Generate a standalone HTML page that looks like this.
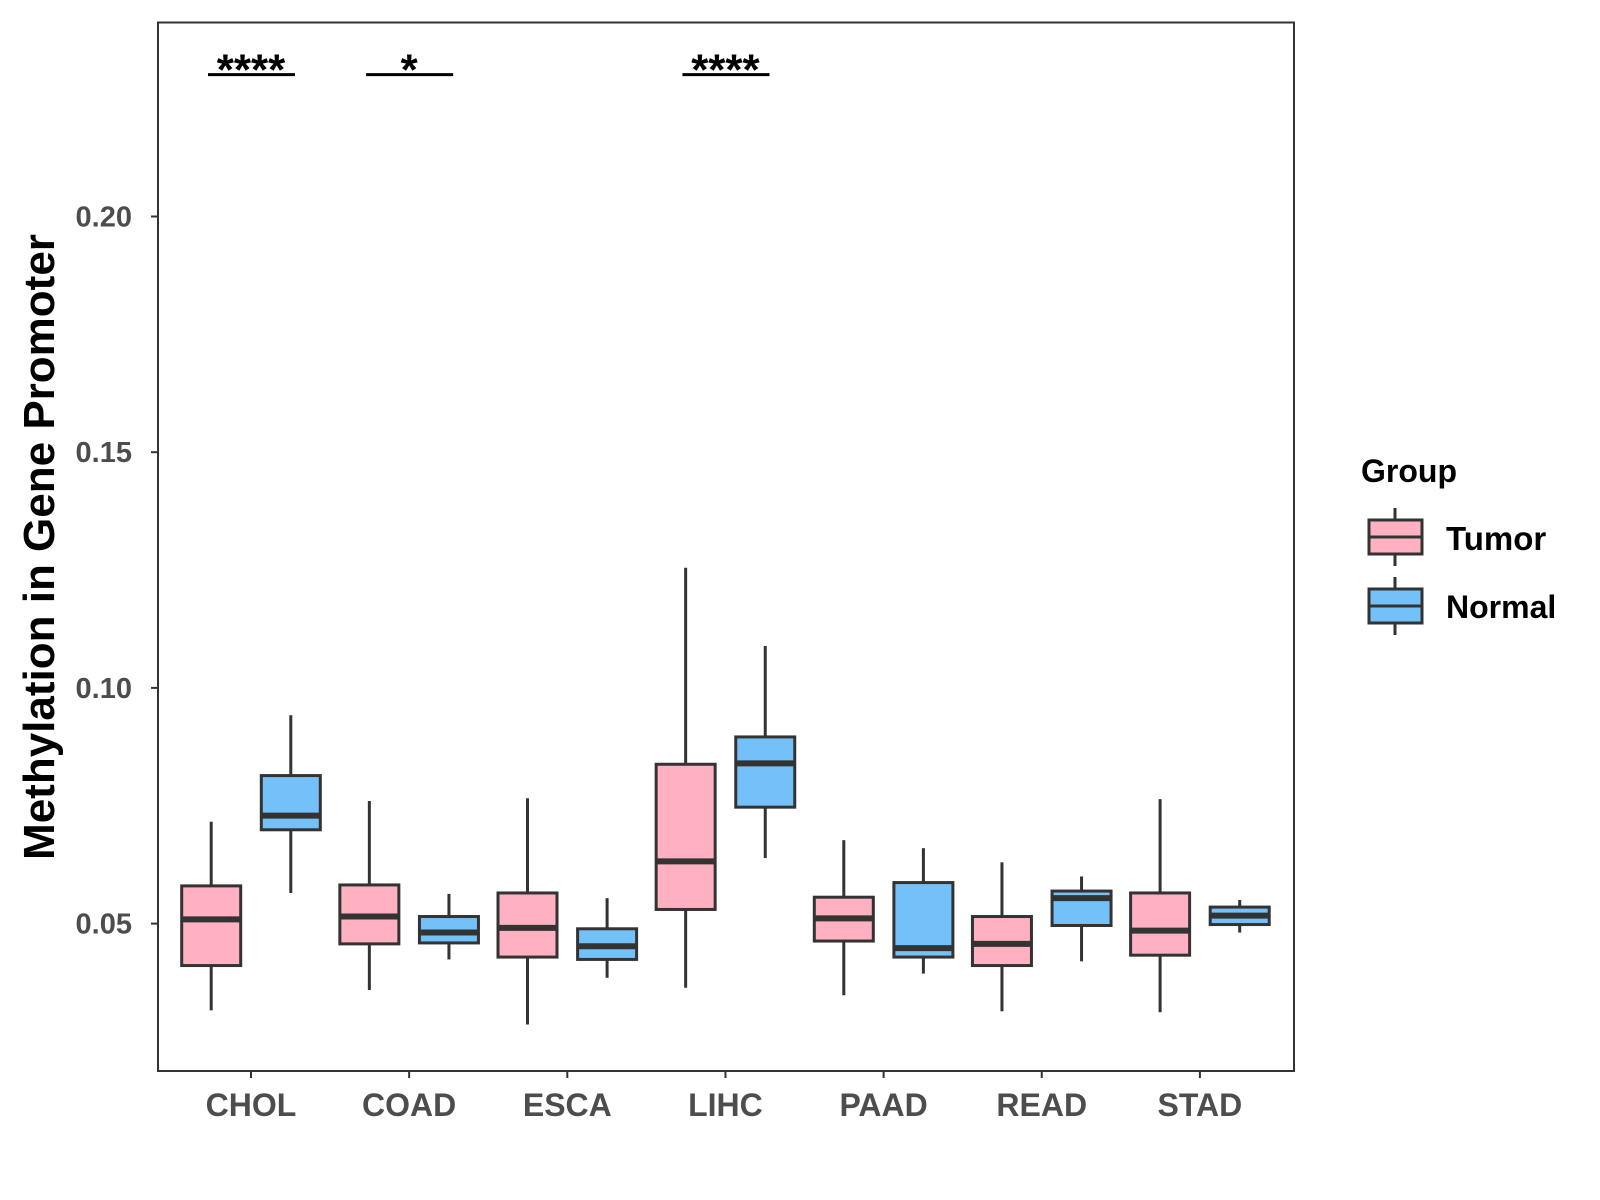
<!DOCTYPE html>
<html><head><meta charset="utf-8"><style>
html,body{margin:0;padding:0;background:#fff}
svg{display:block;font-family:"Liberation Sans",Arial,sans-serif}
</style></head><body>
<svg id="chart" width="1600" height="1200" viewBox="0 0 1600 1200">
<rect x="158" y="22.5" width="1136" height="1048.5" fill="#fff" stroke="#333" stroke-width="2"/>
<g id="g"></g>
<text transform="translate(54,547) rotate(-90)" text-anchor="middle" font-size="44" font-weight="bold" fill="#000">Methylation in Gene Promoter</text>
<g>
<text x="1361" y="482" font-size="32" font-weight="bold" fill="#000">Group</text>
<g>
<line x1="1395" y1="508" x2="1395" y2="566" stroke="#333" stroke-width="3"/>
<rect x="1369" y="520" width="53" height="34" fill="#FFB0C1" stroke="#333" stroke-width="3"/>
<line x1="1369" y1="537" x2="1422" y2="537" stroke="#333" stroke-width="3"/>
<text x="1446" y="550" font-size="33" font-weight="bold" fill="#000">Tumor</text>
</g>
<g>
<line x1="1395" y1="577" x2="1395" y2="635" stroke="#333" stroke-width="3"/>
<rect x="1369" y="589" width="53" height="34" fill="#74C1FA" stroke="#333" stroke-width="3"/>
<line x1="1369" y1="606" x2="1422" y2="606" stroke="#333" stroke-width="3"/>
<text x="1446" y="618" font-size="32" font-weight="bold" fill="#000">Normal</text>
</g>
</g>
</svg>
<script>
const categories = ["CHOL","COAD","ESCA","LIHC","PAAD","READ","STAD"];
// [low whisker, q1, median, q3, high whisker]
const tumorStats = [
 [0.0316,0.0411,0.0509,0.058,0.0716],
 [0.0359,0.0457,0.0515,0.0582,0.076],
 [0.0286,0.0429,0.0491,0.0565,0.0766],
 [0.0364,0.053,0.0632,0.0838,0.1255],
 [0.0348,0.0463,0.0511,0.0556,0.0677],
 [0.0314,0.0411,0.0457,0.0515,0.063],
 [0.0312,0.0433,0.0485,0.0565,0.0764]
];
const normalStats = [
 [0.0565,0.0699,0.0729,0.0814,0.0942],
 [0.0424,0.0459,0.0481,0.0515,0.0563],
 [0.0385,0.0424,0.0452,0.0489,0.0554],
 [0.0639,0.0747,0.084,0.0896,0.1089],
 [0.0394,0.0429,0.0448,0.0587,0.066],
 [0.042,0.0496,0.0554,0.0569,0.06],
 [0.0481,0.0498,0.0517,0.0535,0.055]
];
const sigLabels = ["****","*","","****","","",""];
const sigLevel = 0.2301;
const yTicks = [0.05,0.10,0.15,0.20];
const yTickLabels = ["0.05","0.10","0.15","0.20"];

const NS="http://www.w3.org/2000/svg";
const g=document.getElementById('g');
function y(v){return 923.6-(v-0.05)*4714;}
function x(i){return 251+i*158.15;}
function mk(tag,attrs,parent){const e=document.createElementNS(NS,tag);for(const k in attrs)e.setAttribute(k,attrs[k]);(parent||g).appendChild(e);return e;}

yTicks.forEach((t,i)=>{
 const tk=mk('line',{x1:151,x2:158,y1:y(t),y2:y(t),stroke:'#333','stroke-width':2});
 
 
 const lb=mk('text',{x:132,y:y(t)+10,'text-anchor':'end','font-size':29,'font-weight':'bold',fill:'#4d4d4d'});
 lb.textContent=yTickLabels[i];
 
 
});
categories.forEach((c,i)=>{
 const tk=mk('line',{x1:x(i),x2:x(i),y1:1071,y2:1078,stroke:'#333','stroke-width':2});
 
 
 const lb=mk('text',{x:x(i),y:1116,'text-anchor':'middle','font-size':32,'font-weight':'bold',fill:'#4d4d4d'});
 lb.textContent=c;
 
 
});
function box(cx,s,fill,name){
 const grp=mk('g',{});
 
 
 const hw=29.5;
 mk('line',{x1:cx,x2:cx,y1:y(s[0]),y2:y(s[1]),stroke:'#333','stroke-width':3},grp);
 mk('line',{x1:cx,x2:cx,y1:y(s[3]),y2:y(s[4]),stroke:'#333','stroke-width':3},grp);
 mk('rect',{x:cx-hw,y:y(s[3]),width:hw*2,height:y(s[1])-y(s[3]),fill:fill,stroke:'#333','stroke-width':3},grp);
 mk('line',{x1:cx-hw,x2:cx+hw,y1:y(s[2]),y2:y(s[2]),stroke:'#333','stroke-width':6},grp);
}
categories.forEach((c,i)=>{
 box(x(i)-39.8,tumorStats[i],'#FFB0C1','box-tumor-'+c.toLowerCase());
 box(x(i)+39.8,normalStats[i],'#74C1FA','box-normal-'+c.toLowerCase());
 if(sigLabels[i]){
  const ln=mk('line',{x1:x(i)-43,x2:x(i)+44,y1:y(sigLevel),y2:y(sigLevel),stroke:'#000','stroke-width':3});
  
  
  const t=mk('text',{x:x(i),y:y(sigLevel)+10,'text-anchor':'middle','font-size':44,'font-weight':'bold',fill:'#000'});
  t.textContent=sigLabels[i];
  
  
 }
});
</script>
</body></html>
